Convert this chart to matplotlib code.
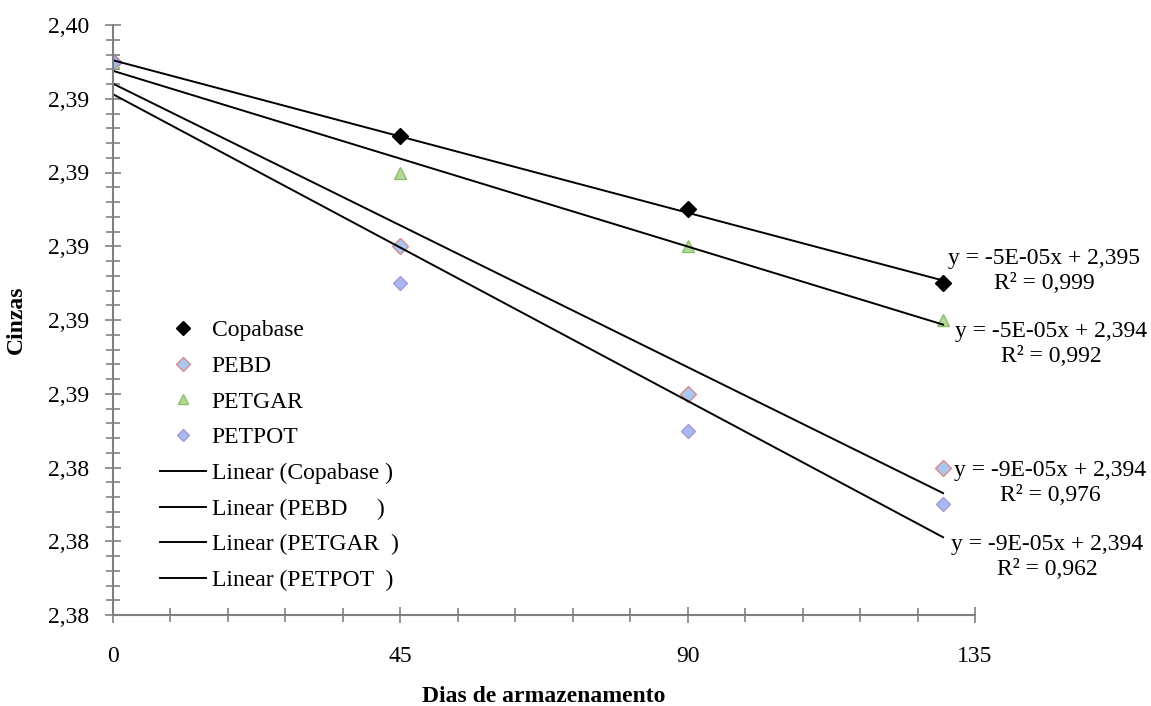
import numpy as np
from matplotlib import pyplot as plt
from matplotlib.ticker import FuncFormatter, MultipleLocator

dias = [0, 45, 90, 130]
copabase = [2.395, 2.393, 2.391, 2.389]
pebd = [2.395, 2.390, 2.386, 2.384]
petgar = [2.395, 2.392, 2.390, 2.388]
petpot = [2.395, 2.389, 2.385, 2.383]

series = ["Copabase", "PEBD", "PETGAR", "PETPOT"]
trend_names = ["Copabase ", "PEBD     ", "PETGAR  ", "PETPOT  "]
equations = ["y = -5E-05x + 2,395\nR² = 0,999",
             "y = -9E-05x + 2,394\nR² = 0,976",
             "y = -5E-05x + 2,394\nR² = 0,992",
             "y = -9E-05x + 2,394\nR² = 0,962"]

plt.rcParams["font.family"] = ["Liberation Serif", "DejaVu Serif"]
plt.rcParams["font.size"] = 17

fig = plt.figure(figsize=(11.51, 7.06), dpi=100)
ax = fig.add_axes([113/1151, 1-615/706, (975-113)/1151, (615-25)/706])

styles = [
    dict(marker="D", color="black", mec="black", ms=8),
    dict(marker="D", color="#a9c7f0", mec="#d98a8a", ms=8),
    dict(marker="^", color="#b5d99c", mec="#8cbf6a", ms=9),
    dict(marker="D", color="#a8b8f0", mec="#a89ad8", ms=7),
]

data = [copabase, pebd, petgar, petpot]
points = []
for name, ys, st in zip(series, data, styles):
    p, = ax.plot(dias, ys, linestyle="none", label=name, **st)
    points.append(p)

trends = []
xx = np.array([dias[0], dias[-1]])
for name, ys in zip(trend_names, data):
    k, b = np.polyfit(dias, ys, 1)
    t, = ax.plot(xx, k*xx + b, color="black", lw=1.4, label="Linear (" + name + ")")
    trends.append(t)

ax.set_xlim(0, 135)
ax.set_ylim(2.380, 2.396)
ax.xaxis.set_major_locator(MultipleLocator(45))
ax.xaxis.set_minor_locator(MultipleLocator(9))
ax.yaxis.set_major_locator(MultipleLocator(0.002))
ax.yaxis.set_minor_locator(MultipleLocator(0.0004))
ax.yaxis.set_major_formatter(FuncFormatter(lambda v, pos: ("%.2f" % v).replace(".", ",")))

for s in ["top", "right"]:
    ax.spines[s].set_visible(False)
for s in ["left", "bottom"]:
    ax.spines[s].set_color("#808080")
    ax.spines[s].set_linewidth(1.5)
ax.tick_params(which="both", direction="inout", color="#808080", width=1.2)
ax.tick_params(which="major", length=12)
ax.tick_params(which="minor", length=10)
ax.tick_params(axis="x", pad=16)
ax.tick_params(axis="y", pad=11)

ax.set_xlabel("Dias de armazenamento", fontweight="bold", labelpad=14)
ax.set_ylabel("Cinzas", fontweight="bold", va="center")
ax.yaxis.set_label_coords((16-113)/862, 0.5)

fig.legend(handles=points + trends, loc="upper left", bbox_to_anchor=(148/1151, 1-308/706),
           frameon=False, handlelength=1.95, handletextpad=0.25, labelspacing=0.6,
           borderpad=0, fontsize=17, markerscale=0.85)

# text positions of the trend equations (figure pixels, from top)
eq_pos = [(1044, 271), (1050, 483), (1051, 344), (1047, 557)]
for txt, (px, py) in zip(equations, eq_pos):
    fig.text(px/1151, 1-py/706, txt, ha="center", va="center", fontsize=17, linespacing=1.25)

fig.savefig("out.png", dpi=100)
